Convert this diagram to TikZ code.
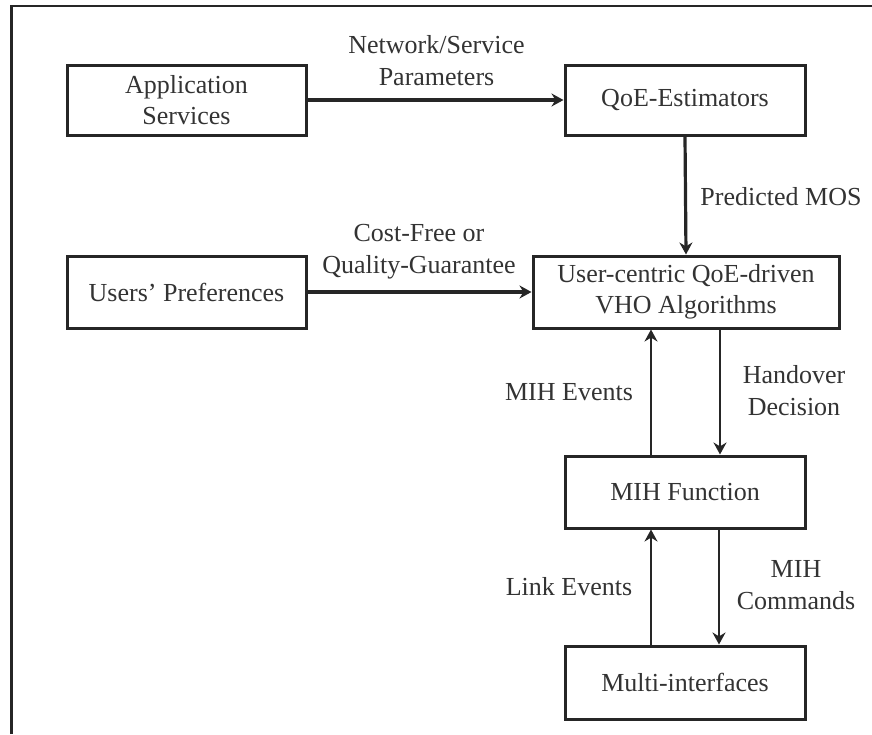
\documentclass[tikz,border=0pt]{standalone}
\usepackage{fontspec}
\setmainfont{Liberation Serif}
\usetikzlibrary{arrows.meta}
\begin{document}
\begin{tikzpicture}[x=1pt,y=-1pt,
  box/.style={draw=black!85,line width=3pt,align=center,inner sep=0pt,
    font=\fontsize{26}{31}\selectfont,text=black!80},
  lbl/.style={align=center,inner sep=0pt,font=\fontsize{26}{32}\selectfont,text=black!80},
  arr/.style={draw=black!85,line width=3.2pt,-{Stealth[length=12pt,width=13pt]}},
  arrthin/.style={draw=black!85,line width=2.6pt,-{Stealth[length=12pt,width=13pt]}}]
\useasboundingbox (0,0) rectangle (872,734);
% frame
\coordinate (fbl) at (11.5,734);
\coordinate (ftl) at (11.5,6);
\coordinate (ftr) at (872,6);
\draw[line width=2.4pt,black!85] (fbl) -- (ftl) -- (ftr);
% boxes
\node[box,minimum width=239pt,minimum height=70pt] (app) at (186.5,100) {Application\\Services};
\node[box,minimum width=239pt,minimum height=72pt] (usr) at (186.5,292) {Users' Preferences};
\node[box,minimum width=240pt,minimum height=70pt] (qoe) at (685,100) {QoE-Estimators};
\node[box,minimum width=306pt,minimum height=72pt] (uc) at (686,292) {User-centric QoE-driven\\VHO Algorithms};
\node[box,minimum width=240pt,minimum height=72pt] (mih) at (685,492) {MIH Function};
\node[box,minimum width=240pt,minimum height=73pt] (mi) at (685,682.5) {Multi-interfaces};
% connectors
\draw[arr] (app.east) -- (qoe.west);
\draw[arr] (usr.east) -- (uc.west);
\draw[arr] (qoe.south) -- (uc.north);
\draw[arrthin] ([xshift=-34pt]mih.north) -- ([xshift=-35pt]uc.south);
\draw[arrthin] ([xshift=34pt]uc.south) -- ([xshift=35pt]mih.north);
\draw[arrthin] ([xshift=-34pt]mi.north) -- ([xshift=-34pt]mih.south);
\draw[arrthin] ([xshift=34pt]mih.south) -- ([xshift=34pt]mi.north);
% labels
\node[lbl] (l1) at (436.5,61) {Network/Service\\Parameters};
\node[lbl] (l2) at (419,252) {Cost-Free or\\Quality-Guarantee};
\node[lbl] (l3) at (781,197) {Predicted MOS};
\node[lbl] (l4) at (569,392) {MIH Events};
\node[lbl] (l5) at (794,391) {Handover\\Decision};
\node[lbl] (l6) at (569,587) {Link Events};
\node[lbl] (l7) at (796,585) {MIH\\Commands};
\end{tikzpicture}
\end{document}
